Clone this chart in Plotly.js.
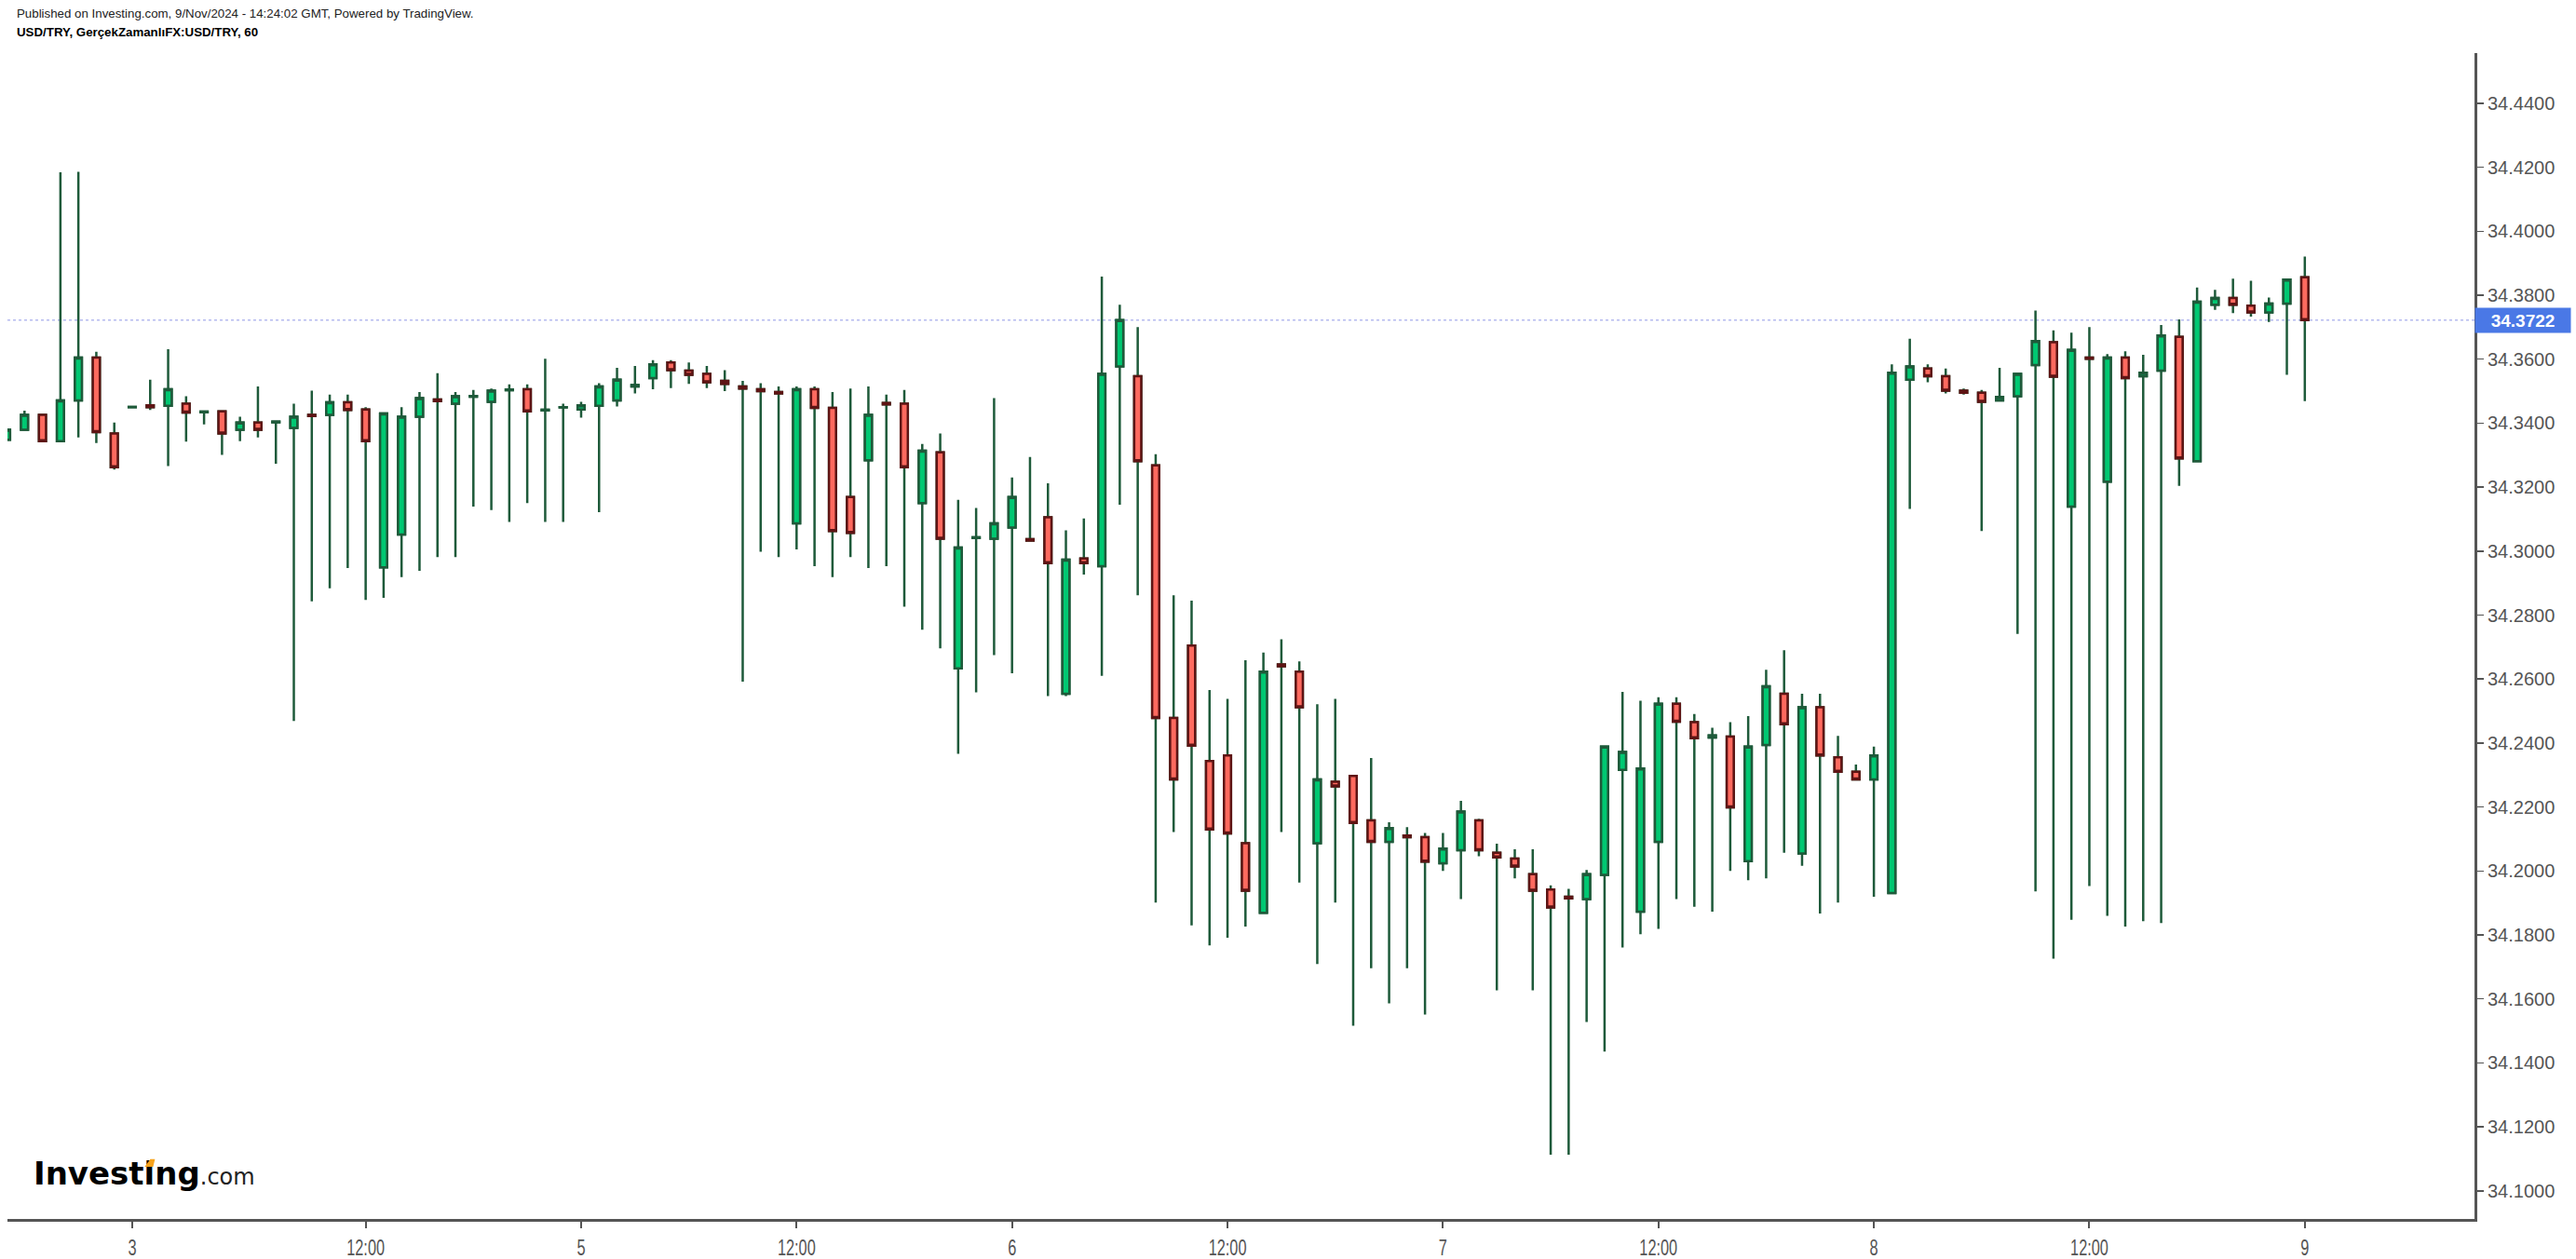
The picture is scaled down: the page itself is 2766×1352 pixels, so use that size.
<!DOCTYPE html>
<html>
<head>
<meta charset="utf-8">
<script src="https://cdn.plot.ly/plotly-3.0.1.min.js"></script>
<style>
  html, body { margin: 0; padding: 0; background: #ffffff; }
  #chart { width: 2766px; height: 1352px; }
</style>
</head>
<body>
<div id="chart"></div>
<script>
// USD/TRY hourly candles
const opens = [
34.3348,34.3379,34.3426,34.3344,34.3471,34.3605,34.3368,34.3450,34.3456,34.3454,
34.3461,34.3434,34.3437,34.3379,34.3402,34.3403,34.3385,34.3426,34.3426,34.3465,
34.3443,34.2949,34.3052,34.3420,34.3474,34.3461,34.3483,34.3467,34.3503,34.3506,
34.3440,34.3449,34.3443,34.3454,34.3471,34.3515,34.3541,34.3590,34.3564,34.3554,
34.3532,34.3515,34.3506,34.3497,34.3087,34.3506,34.3448,34.3169,34.3284,34.3463,
34.3461,34.3150,34.3309,34.2633,34.3041,34.3039,34.3074,34.3037,34.3106,34.2554,
34.2977,34.2953,34.3577,34.3547,34.3268,34.2478,34.2705,34.2344,34.2361,34.2087,
34.1869,34.2646,34.2623,34.2087,34.2279,34.2297,34.2158,34.2091,34.2111,34.2106,
34.2024,34.2065,34.2158,34.2057,34.2039,34.1990,34.1942,34.1919,34.1912,34.1988,
34.2316,34.1873,34.2091,34.2523,34.2465,34.2417,34.2420,34.2031,34.2394,34.2554,
34.2055,34.2512,34.2355,34.2310,34.2286,34.1931,34.3536,34.3571,34.3547,34.3502,
34.3495,34.3471,34.3484,34.3582,34.3653,34.3139,34.3605,34.3217,34.3605,34.3547,
34.3564,34.3670,34.3281,34.3770,34.3791,34.3767,34.3746,34.3774,34.3856];
const highs = [
34.3381,34.3439,34.3428,34.4184,34.4186,34.3623,34.3402,34.3451,34.3536,34.3631,
34.3484,34.3436,34.3438,34.3420,34.3515,34.3405,34.3461,34.3502,34.3489,34.3489,
34.3450,34.3431,34.3450,34.3497,34.3556,34.3497,34.3504,34.3508,34.3521,34.3521,
34.3601,34.3461,34.3467,34.3525,34.3573,34.3579,34.3597,34.3597,34.3590,34.3579,
34.3566,34.3532,34.3525,34.3515,34.3515,34.3515,34.3497,34.3508,34.3515,34.3489,
34.3504,34.3335,34.3368,34.3160,34.3135,34.3478,34.3230,34.3294,34.3212,34.3065,
34.3102,34.3858,34.3770,34.3700,34.3303,34.2862,34.2845,34.2566,34.2538,34.2659,
34.2683,34.2724,34.2655,34.2521,34.2538,34.2298,34.2353,34.2152,34.2137,34.2119,
34.2119,34.2219,34.2163,34.2085,34.2068,34.2068,34.1955,34.1944,34.2003,34.2390,
34.2560,34.2532,34.2543,34.2543,34.2491,34.2448,34.2465,34.2484,34.2629,34.2690,
34.2554,34.2554,34.2422,34.2333,34.2389,34.3584,34.3664,34.3584,34.3571,34.3508,
34.3504,34.3573,34.3555,34.3752,34.3690,34.3683,34.3700,34.3616,34.3625,34.3614,
34.3707,34.3724,34.3824,34.3817,34.3852,34.3845,34.3793,34.3849,34.3921];
const lows = [
34.3345,34.3377,34.3342,34.3342,34.3355,34.3338,34.3255,34.3449,34.3441,34.3266,
34.3342,34.3396,34.3301,34.3344,34.3355,34.3273,34.2469,34.2843,34.2884,34.2947,
34.2847,34.2854,34.2919,34.2938,34.2981,34.2981,34.3139,34.3128,34.3091,34.3150,
34.3091,34.3091,34.3417,34.3122,34.3452,34.3493,34.3506,34.3510,34.3523,34.3510,
34.3500,34.2592,34.2998,34.2981,34.3005,34.2953,34.2919,34.2981,34.2947,34.2953,
34.2826,34.2754,34.2696,34.2366,34.2558,34.2675,34.2618,34.3032,34.2547,34.2547,
34.2927,34.2610,34.3145,34.2862,34.1901,34.2122,34.1830,34.1767,34.1791,34.1826,
34.1868,34.2122,34.1964,34.1709,34.1901,34.1516,34.1696,34.1586,34.1696,34.1551,
34.2000,34.1912,34.2046,34.1627,34.1977,34.1627,34.1113,34.1113,34.1528,34.1435,
34.1761,34.1802,34.1819,34.1912,34.1888,34.1873,34.2000,34.1971,34.1977,34.2057,
34.2016,34.1867,34.1901,34.2285,34.1919,34.1930,34.3132,34.3528,34.3493,34.3489,
34.3063,34.3470,34.2741,34.1936,34.1726,34.1847,34.1953,34.1860,34.1826,34.1843,
34.1837,34.3204,34.3280,34.3754,34.3744,34.3733,34.3716,34.3551,34.3469];
const closes = [
34.3379,34.3426,34.3344,34.3471,34.3605,34.3372,34.3262,34.3451,34.3450,34.3506,
34.3433,34.3436,34.3368,34.3402,34.3379,34.3405,34.3420,34.3422,34.3465,34.3441,
34.3344,34.3430,34.3420,34.3478,34.3469,34.3484,34.3485,34.3502,34.3505,34.3437,
34.3442,34.3450,34.3456,34.3515,34.3536,34.3519,34.3584,34.3566,34.3551,34.3528,
34.3523,34.3508,34.3500,34.3493,34.3506,34.3448,34.3063,34.3057,34.3426,34.3459,
34.3262,34.3314,34.3039,34.3011,34.3043,34.3087,34.3169,34.3033,34.2962,34.2973,
34.2962,34.3554,34.3722,34.3281,34.2478,34.2286,34.2392,34.2130,34.2117,34.1938,
34.2623,34.2640,34.2512,34.2286,34.2264,34.2150,34.2091,34.2134,34.2106,34.2029,
34.2070,34.2186,34.2065,34.2042,34.2014,34.1938,34.1886,34.1914,34.1990,34.2389,
34.2372,34.2320,34.2523,34.2467,34.2415,34.2424,34.2199,34.2389,34.2577,34.2459,
34.2512,34.2361,34.2310,34.2286,34.2361,34.3558,34.3577,34.3547,34.3502,34.3495,
34.3467,34.3482,34.3554,34.3657,34.3545,34.3629,34.3601,34.3605,34.3541,34.3558,
34.3674,34.3290,34.3780,34.3791,34.3770,34.3746,34.3774,34.3849,34.3722];

// x-axis labels and the bar index they sit on
const tickBars   = [7, 20, 32, 44, 56, 68, 80, 92, 104, 116, 128];
const tickLabels = ['3', '12:00', '5', '12:00', '6', '12:00', '7', '12:00', '8', '12:00', '9'];

const yTickStart = 34.10, yTickStep = 0.02;

const headerLine1 = 'Published on Investing.com, 9/Nov/2024 - 14:24:02 GMT, Powered by TradingView.';
const headerLine2 = 'USD/TRY, GerçekZamanlıFX:USD/TRY, 60';
const logoMain = 'Investing', logoTail = '.com';

// ---- styling ----
const GREEN = '#00c872', GREEN_DARK = '#1e5a3a';
const RED = '#ff6a5f', RED_DARK = '#5e1414';
const LOGO_PX = 34;

const idx = opens.map((_, i) => i);
const bodyHi = opens.map((o, i) => Math.max(o, closes[i]));
const bodyLo = opens.map((o, i) => Math.min(o, closes[i]));
const last = closes[closes.length - 1];

const wicks = {
  type: 'candlestick', x: idx, open: opens, high: highs, low: lows, close: closes,
  increasing: { line: { color: GREEN_DARK, width: 2.5 }, fillcolor: GREEN },
  decreasing: { line: { color: GREEN_DARK, width: 2.5 }, fillcolor: RED },
  whiskerwidth: 0, hoverinfo: 'skip', showlegend: false
};
const bodies = {
  type: 'candlestick', x: idx, open: opens, high: bodyHi, low: bodyLo, close: closes,
  increasing: { line: { color: GREEN_DARK, width: 2.5 }, fillcolor: GREEN },
  decreasing: { line: { color: RED_DARK, width: 2.5 }, fillcolor: RED },
  whiskerwidth: 0, hoverinfo: 'skip', showlegend: false
};

const layout = {
  width: 2766, height: 1352,
  margin: { l: 8, r: 109, t: 57, b: 43 },
  paper_bgcolor: '#ffffff', plot_bgcolor: '#ffffff',
  showlegend: false,
  boxgap: 0.44,
  font: { family: 'Arial, "Liberation Sans", sans-serif', color: '#555' },
  xaxis: {
    type: 'linear', range: [0.05, 137.45],
    showgrid: false, zeroline: false,
    showline: true, linecolor: '#555', linewidth: 3,
    ticks: 'outside', ticklen: 7, tickwidth: 2, tickcolor: '#555',
    tickvals: tickBars, ticktext: tickLabels,
    tickfont: { family: 'Arial, "Liberation Sans", sans-serif', size: 24, color: '#555' },
    rangeslider: { visible: false }, fixedrange: true
  },
  yaxis: {
    side: 'right', range: [34.0912, 34.4557],
    tick0: yTickStart, dtick: yTickStep, tickformat: '.4f',
    showgrid: false, zeroline: false,
    showline: true, linecolor: '#555', linewidth: 3,
    ticks: 'outside', ticklen: 7, tickwidth: 1.5, tickcolor: '#555',
    tickfont: { family: 'Arial, "Liberation Sans", sans-serif', size: 20, color: '#555' },
    fixedrange: true
  },
  shapes: [
    { type: 'line', layer: 'below', xref: 'paper', x0: 0, x1: 1, yref: 'y', y0: last, y1: last,
      line: { color: 'rgba(120,130,225,0.55)', width: 1.5, dash: 'dot' } }
  ],
  annotations: [
    { xref: 'paper', yref: 'y', x: 1, y: last, xanchor: 'left', yanchor: 'middle',
      text: last.toFixed(4), showarrow: false, bgcolor: '#4a78e6',
      width: 100, height: 24, borderpad: 1, align: 'center',
      font: { family: 'Arial, "Liberation Sans", sans-serif', size: 19, color: '#ffffff', weight: 'bold' } },
    { xref: 'paper', yref: 'paper', x: 0.003, y: 1.0343, xanchor: 'left', yanchor: 'middle',
      text: headerLine1, showarrow: false,
      font: { family: 'Arial, "Liberation Sans", sans-serif', size: 13.3, color: '#222' } },
    { xref: 'paper', yref: 'paper', x: 0.003, y: 1.0180, xanchor: 'left', yanchor: 'middle',
      text: '<b>' + headerLine2 + '</b>', showarrow: false,
      font: { family: 'Arial, "Liberation Sans", sans-serif', size: 13.3, color: '#000' } },
    { xref: 'paper', yref: 'paper', x: 0.0100, y: 0.039, xanchor: 'left', yanchor: 'middle',
      text: '<span style="font-weight:bold;font-size:' + LOGO_PX + 'px;color:#000">' + logoMain +
            '</span><span style="font-size:24px;color:#222">' + logoTail + '</span>',
      showarrow: false,
      font: { family: '"DejaVu Sans", sans-serif', size: LOGO_PX, color: '#000' } }
  ]
};

Plotly.newPlot('chart', [wicks, bodies], layout, { staticPlot: true, displayModeBar: false }).then(() => {
  // condense the x tick labels like the original's narrow time-scale font
  document.querySelectorAll('.xtick text').forEach(t => {
    const w = t.getComputedTextLength();
    t.setAttribute('textLength', (w * 0.68).toFixed(1));
    t.setAttribute('lengthAdjust', 'spacingAndGlyphs');
  });
  // orange accent over the dot of the second "i" in the logo
  const spans = Array.from(document.querySelectorAll('.annotation-text tspan'));
  const sp = spans.find(s => s.textContent === logoMain);
  if (sp) {
    const text = sp.closest('text');
    const k = logoMain.lastIndexOf('i');
    const ext = sp.getExtentOfChar(k);
    const base = sp.getStartPositionOfChar(k).y;
    const cx = ext.x + ext.width / 2;
    const top = base - LOGO_PX * 0.80, bot = base - LOGO_PX * 0.56;
    const p = document.createElementNS('http://www.w3.org/2000/svg', 'path');
    p.setAttribute('d', `M${cx - 5},${bot} L${cx + 1},${top} L${cx + 6},${top} L${cx + 4},${bot} Z`);
    p.setAttribute('fill', '#f7a21b');
    if (text.getAttribute('transform')) p.setAttribute('transform', text.getAttribute('transform'));
    text.parentNode.appendChild(p);
  }
});
</script>
</body>
</html>
